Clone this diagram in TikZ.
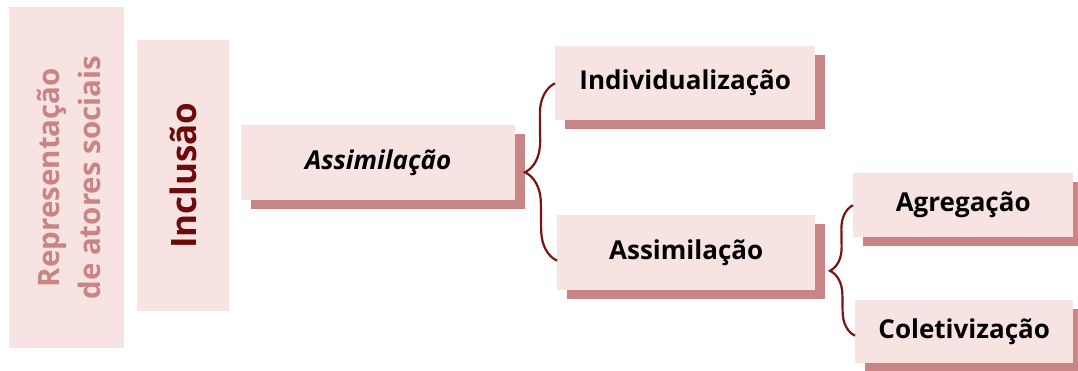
\documentclass[tikz,border=0pt]{standalone}
\usepackage{fontspec}
\setmainfont{Open Sans}
\usetikzlibrary{shadows,decorations.pathreplacing}
\definecolor{boxfill}{HTML}{F8E3E3}
\definecolor{shade}{HTML}{C98585}
\definecolor{deepred}{HTML}{6E0A0A}
\definecolor{bracec}{HTML}{7A1414}
\begin{document}
\begin{tikzpicture}[x=1pt,y=-1pt,
  panel/.style={fill=boxfill, draw=none, inner sep=0pt, anchor=north west},
  card/.style={panel, font=\fontsize{26}{31}\selectfont\bfseries, text=black,
    general shadow={fill=shade, shadow xshift=10pt, shadow yshift=-9pt}},
  bracket/.style={draw=bracec, line width=2.2pt,
    decorate, decoration={brace, amplitude=31pt, raise=0pt}}]
\useasboundingbox (0,0) rectangle (1078,371);

% vertical title panels
\node[panel, minimum width=115pt, minimum height=341pt] (rep) at (9,7) {};
\node[rotate=90, text=shade, align=center,
  font=\fontsize{29.5}{41}\selectfont\bfseries] (repT) at ([xshift=2pt]rep.center)
  {Representação\\de atores sociais};
\node[panel, minimum width=92pt, minimum height=271pt] (inc) at (137,40) {};
\node[rotate=90, text=deepred, font=\fontsize{35}{40}\selectfont\bfseries]
  (incT) at (inc.center) {Inclusão};

% category cards
\node[card, minimum width=274pt, minimum height=75pt, font=\fontsize{26}{31}\selectfont\bfseries\itshape]
  (as1) at (241,125) {Assimilação};
\node[card, minimum width=260pt, minimum height=74pt] (ind) at (555,46) {Individualização};
\node[card, minimum width=258pt, minimum height=75pt] (as2) at (557,215) {Assimilação};
\node[card, minimum width=220pt, minimum height=64pt] (agr) at (853,173) {Agregação};
\node[card, minimum width=218pt, minimum height=63pt] (col) at (855,300) {Coletivização};

% braces grouping the sub-categories
\coordinate (b1top) at (ind.west);
\coordinate (b1bot) at ([yshift=-8pt]as2.west);
\draw[bracket] (b1bot) -- (b1top);
\coordinate (b2top) at (agr.west);
\coordinate (b2bot) at ([yshift=-4pt]col.west);
\draw[bracket, decoration={amplitude=24pt}] (b2bot) -- (b2top);
\end{tikzpicture}
\end{document}
